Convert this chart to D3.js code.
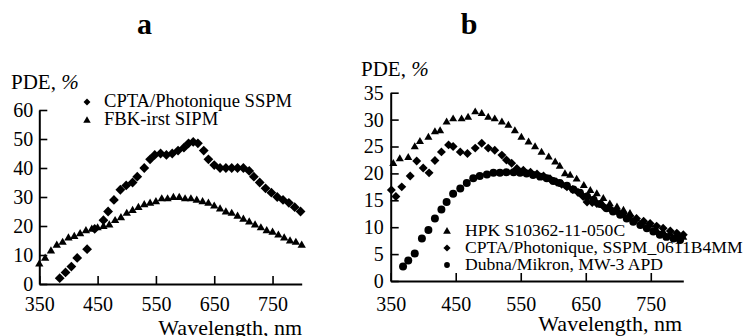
<!DOCTYPE html>
<html>
<head>
<meta charset="utf-8">
<script src="https://cdn.jsdelivr.net/npm/d3@7"></script>
<style>
  body { margin: 0; background: #fff; }
  svg text { font-family: "Liberation Serif", "DejaVu Serif", serif; fill: #000; }
</style>
</head>
<body>
<div id="chart"></div>
<script>
// ---- data ----
var xTicks = [350, 450, 550, 650, 750];
var yTicksA = [0, 10, 20, 30, 40, 50, 60];
var yTicksB = [0, 5, 10, 15, 20, 25, 30, 35];

// panel a
var cptaA_nm  = [385, 395, 405, 415, 432, 445, 460, 468, 478, 489, 499, 510, 518, 530, 540, 548, 558, 568, 578, 588, 598, 606, 614, 622, 632, 640, 650, 660, 670, 680, 690, 700, 710, 718, 728, 738, 748, 758, 768, 778, 788, 798];
var cptaA_pde = [2, 4, 6, 9, 12, 19, 22, 25, 29, 32.5, 34, 35, 37, 40, 43, 44.5, 45, 44.5, 45, 46, 47, 48.5, 49, 48.5, 46, 43, 41, 40, 40, 40, 40, 40, 39, 37, 35, 33, 31.5, 30, 29, 28, 26.5, 25];

var fbk_nm  = [350, 360, 370, 380, 390, 400, 410, 420, 430, 440, 450, 460, 470, 480, 490, 500, 510, 520, 530, 540, 550, 560, 570, 580, 590, 600, 610, 620, 630, 640, 650, 660, 670, 680, 690, 700, 710, 720, 730, 740, 750, 760, 770, 780, 790, 800];
var fbk_pde = [7, 9, 11.5, 13.5, 14.5, 16, 16.5, 17.5, 18.5, 19, 19.5, 20, 20.5, 22, 23, 24.5, 25.5, 26.5, 27.5, 28, 28.5, 29.5, 29.5, 30, 30, 29.5, 29.5, 29, 28.5, 28, 27, 26, 25, 24.5, 23.5, 22.5, 21.5, 20.5, 19.5, 18.5, 18, 17, 16, 15, 14.5, 13.5];

// panel b
var hpk_nm  = [354, 364, 377, 387, 395, 408, 418, 426, 436, 446, 459, 469, 480, 490, 500, 510, 521, 531, 541, 551, 562, 572, 582, 593, 603, 610, 618, 626, 636, 647, 657, 667, 677, 687, 698, 708, 718, 728, 739, 749, 759, 769, 780, 792, 800];
var hpk_pde = [21.9, 22.8, 23, 25, 26, 26.8, 27.8, 28, 29.6, 30.2, 30.2, 30.5, 31.5, 31.2, 30.5, 30.2, 29.6, 29, 28, 26.8, 25.9, 25, 24, 23.1, 22.2, 21.4, 20, 19.7, 19, 17.8, 16.9, 16.3, 15.4, 14.4, 13.8, 13.2, 12.6, 11.6, 11, 10.4, 9.5, 9.2, 8.9, 8.6, 8.2];

var cptaB_nm  = [351, 358, 367, 380, 390, 400, 409, 418, 428, 439, 446, 457, 468, 480, 490, 500, 510, 521, 528, 536, 544, 554, 565, 575, 585, 595, 605, 613, 621, 630, 638, 646, 652, 660, 667, 677, 687, 698, 708, 718, 728, 739, 749, 759, 769, 780, 790, 800];
var cptaB_pde = [16.9, 15.7, 17.5, 19.5, 22.3, 21, 20.1, 22.4, 24, 25.3, 25, 24, 23.7, 24.7, 25.6, 24.7, 24.3, 23.4, 22.5, 21.9, 20.9, 20.6, 20.2, 19.9, 19.5, 19, 18.4, 18, 17.5, 17, 16.5, 15.7, 14.7, 14.6, 14.4, 13.9, 13.5, 13, 12.6, 12.1, 11.6, 11.1, 10.7, 10.2, 9.8, 9.3, 8.9, 8.6];

var dubna_nm  = [369, 377, 387, 398, 408, 418, 428, 436, 446, 457, 467, 477, 487, 498, 508, 518, 528, 539, 549, 559, 569, 580, 590, 600, 610, 621, 631, 641, 652, 662, 672, 682, 692, 703, 713, 723, 734, 744, 754, 764, 774, 785, 795];
var dubna_pde = [2.7, 3.8, 5.1, 7.9, 9.5, 11.6, 13.3, 14.7, 16.2, 17.2, 18.2, 19.1, 19.5, 19.8, 20.1, 20.1, 20.2, 20.2, 20.1, 20, 19.7, 19.4, 19.1, 18.6, 18.2, 17.7, 17, 16.4, 15.7, 15.1, 14.3, 13.5, 12.9, 12.3, 11.6, 11, 10.4, 9.8, 9.2, 8.6, 8.2, 7.9, 7.6];

var legendA = ["CPTA/Photonique SSPM", "FBK-irst SIPM"];
var legendB = ["HPK S10362-11-050C", "CPTA/Photonique, SSPM_0611B4MM", "Dubna/Mikron, MW-3 APD"];

var width = 743, height = 336;

var svg = d3.select("#chart")
  .append("svg")
  .attr("width", width)
  .attr("height", height);

// marker generators
function marker(kind, size) {
  if (kind === "diamond") return d3.symbol().type(d3.symbolSquare).size(size)();
  if (kind === "triangle") return d3.symbol().type(d3.symbolTriangle).size(size)();
  return d3.symbol().type(d3.symbolCircle).size(size)();
}
function markerTransform(kind, x, y) {
  var t = "translate(" + x + "," + y + ")";
  if (kind === "diamond") t += " rotate(45)";
  if (kind === "triangle") t += " translate(0,0.5)";
  return t;
}

function zip(xs, ys) {
  return xs.map(function(x, i) { return {x: x, y: ys[i]}; });
}

function drawPanel(p) {
  var g = svg.append("g");
  var x = d3.scaleLinear().domain([350, 800]).range(p.xRange);
  var y = d3.scaleLinear().domain(p.yDomain).range(p.yRange);

  // panel letter
  g.append("text")
    .attr("x", p.letterX).attr("y", 34)
    .attr("text-anchor", "middle")
    .style("font-size", "30px").style("font-weight", "bold")
    .text(p.letter);

  // series
  p.series.forEach(function(s) {
    g.append("g").selectAll("path")
      .data(zip(s.nm, s.pde))
      .enter().append("path")
      .attr("d", marker(s.kind, s.size))
      .attr("transform", function(d) { return markerTransform(s.kind, x(d.x), y(d.y)); })
      .attr("fill", "#000");
  });

  // axes, ticks pointing inward
  var xAxis = g.append("g")
    .attr("transform", "translate(0," + p.yRange[0] + ")")
    .call(d3.axisBottom(x).tickValues(xTicks).tickSizeInner(-8).tickSizeOuter(0).tickPadding(p.xPad));
  var yAxis = g.append("g")
    .attr("transform", "translate(" + p.xRange[0] + ",0)")
    .call(d3.axisLeft(y).tickValues(p.yTicks).tickSizeInner(-8).tickSizeOuter(0).tickPadding(p.yPad));

  [xAxis, yAxis].forEach(function(a) {
    a.attr("font-family", "Liberation Serif, serif");
    a.select(".domain").attr("stroke", "#000").attr("stroke-width", 2);
    a.selectAll(".tick line").attr("stroke", "#000").attr("stroke-width", 1.6);
    a.selectAll(".tick text")
      .style("font-family", "Liberation Serif, serif")
      .style("font-size", "20px")
      .attr("fill", "#000");
  });

  // axis titles
  var yt = g.append("text").attr("x", p.yTitle[0]).attr("y", p.yTitle[1]).style("font-size", "21px");
  yt.append("tspan").text("PDE, ");
  yt.append("tspan").style("font-style", "italic").text("%");

  g.append("text")
    .attr("x", p.xTitle[0]).attr("y", p.xTitle[1])
    .attr("text-anchor", "end")
    .style("font-size", "22px")
    .text("Wavelength, nm");

  // legend
  var lg = g.append("g");
  p.legend.forEach(function(label, i) {
    var s = p.series[p.legendOrder[i]];
    var ly = p.legendY + i * p.legendStep;
    lg.append("path")
      .attr("d", marker(s.kind, p.legendSize))
      .attr("transform", markerTransform(s.kind, p.legendMarkX, ly - 5))
      .attr("fill", "#000");
    lg.append("text")
      .attr("x", p.legendTextX).attr("y", ly)
      .style("font-size", p.legendFont)
      .text(label);
  });
}

drawPanel({
  letter: "a", letterX: 144.5,
  xRange: [39.3, 301.7], yDomain: [0, 60], yRange: [284, 110], yTicks: yTicksA,
  xPad: 13, yPad: 6,
  yTitle: [11, 89], xTitle: [302, 335],
  series: [
    {nm: cptaA_nm, pde: cptaA_pde, kind: "diamond", size: 48},
    {nm: fbk_nm, pde: fbk_pde, kind: "triangle", size: 30}
  ],
  legend: legendA, legendOrder: [0, 1],
  legendY: 107, legendStep: 18, legendMarkX: 87, legendTextX: 104, legendSize: 24, legendFont: "18.6px"
});

drawPanel({
  letter: "b", letterX: 469,
  xRange: [390.7, 683.3], yDomain: [0, 35], yRange: [281, 92.7], yTicks: yTicksB,
  xPad: 16, yPad: 7,
  yTitle: [361, 76], xTitle: [682, 331],
  series: [
    {nm: hpk_nm, pde: hpk_pde, kind: "triangle", size: 28},
    {nm: cptaB_nm, pde: cptaB_pde, kind: "diamond", size: 40},
    {nm: dubna_nm, pde: dubna_pde, kind: "circle", size: 50}
  ],
  legend: legendB, legendOrder: [0, 1, 2],
  legendY: 236, legendStep: 17, legendMarkX: 447, legendTextX: 465, legendSize: 26, legendFont: "17.6px"
});
</script>
</body>
</html>
